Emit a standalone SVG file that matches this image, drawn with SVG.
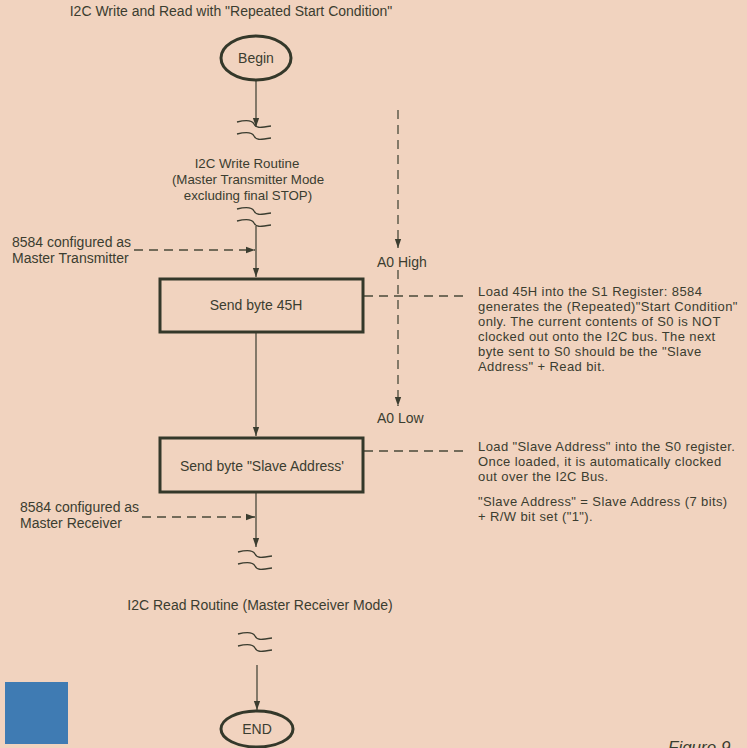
<svg xmlns="http://www.w3.org/2000/svg" width="747" height="748" viewBox="0 0 747 748">
<defs>
<marker id="ah" viewBox="0 0 10 10" refX="10" refY="5" markerWidth="9" markerHeight="9" markerUnits="userSpaceOnUse" orient="auto">
<path d="M0,1.5 L10,5 L0,8.5 Z" fill="#3b3d30"/>
</marker>
<path id="brk" d="M0,0 C8,-2 15,-2 17,2 C19,6 22,6 34,4" fill="none"/>
</defs>
<style>
text{font-family:"Liberation Sans",Arial,sans-serif;font-size:14px;fill:#3b3d30}
.c{text-anchor:middle}
.s{font-size:13.3px}
.n{font-size:13px;letter-spacing:0.4px}
.ln{stroke:#3b3d30;stroke-width:1.2;fill:none}
.ds{stroke:#4a4a3a;stroke-width:1.3;fill:none;stroke-dasharray:9 6}
.nd{stroke:#34382a;stroke-width:3;fill:none}
.bk{stroke:#3b3d30;stroke-width:1.3;fill:none}
</style>
<rect width="747" height="748" fill="#f1d3bf"/>
<rect x="5" y="682" width="63" height="62" fill="#3f7bb3"/>
<text x="231" y="16" class="c">I2C Write and Read with "Repeated Start Condition"</text>
<text x="668" y="753" style="font-size:17px;font-style:italic">Figure 9</text>

<g id="connectors">
<line class="ln" x1="256" y1="80" x2="256" y2="127" marker-end="url(#ah)"/>
<line class="ln" x1="256" y1="226" x2="256" y2="277" marker-end="url(#ah)"/>
<line class="ln" x1="256" y1="333" x2="256" y2="436" marker-end="url(#ah)"/>
<line class="ln" x1="256" y1="493" x2="256" y2="547" marker-end="url(#ah)"/>
<line class="ln" x1="257" y1="665" x2="257" y2="710" marker-end="url(#ah)"/>
<line class="ds" x1="134" y1="250" x2="255" y2="250" marker-end="url(#ah)"/>
<line class="ds" x1="142" y1="517" x2="255" y2="517" marker-end="url(#ah)"/>
<line class="ds" x1="364" y1="296" x2="468" y2="296"/>
<line class="ds" x1="364" y1="451" x2="468" y2="451"/>
<line class="ds" x1="398" y1="110" x2="398" y2="248" marker-end="url(#ah)"/>
<line class="ds" x1="398" y1="270" x2="398" y2="406" marker-end="url(#ah)"/>
<use href="#brk" class="bk" x="237" y="122"/>
<use href="#brk" class="bk" x="237" y="134"/>
<use href="#brk" class="bk" x="237" y="209"/>
<use href="#brk" class="bk" x="237" y="221"/>
<use href="#brk" class="bk" x="238" y="552"/>
<use href="#brk" class="bk" x="238" y="564"/>
<use href="#brk" class="bk" x="238" y="634"/>
<use href="#brk" class="bk" x="238" y="646"/>
</g>

<g id="begin">
<ellipse class="nd" cx="256" cy="58" rx="35" ry="22"/>
<text x="256" y="63" class="c">Begin</text>
</g>

<g id="write-routine">
<text x="247" y="168" class="c s">I2C Write Routine</text>
<text x="248" y="184" class="c s">(Master Transmitter Mode</text>
<text x="248" y="200" class="c s">excluding final STOP)</text>
</g>

<g id="label-transmitter">
<text x="12" y="247">8584 configured as</text>
<text x="12" y="263">Master Transmitter</text>
</g>

<g id="a0-high"><text x="377" y="267">A0 High</text></g>
<g id="a0-low"><text x="377" y="423">A0 Low</text></g>

<g id="send45">
<rect class="nd" x="160" y="279" width="203" height="53"/>
<text x="256" y="310" class="c">Send byte 45H</text>
</g>

<g id="note45">
<text x="478" y="296" class="n">Load 45H into the S1 Register:  8584</text>
<text x="478" y="311" class="n">generates the (Repeated)"Start Condition"</text>
<text x="478" y="326" class="n">only.  The current contents of S0 is NOT</text>
<text x="478" y="341" class="n">clocked out onto the I2C bus.  The next</text>
<text x="478" y="356" class="n">byte sent to S0 should be the "Slave</text>
<text x="478" y="371" class="n">Address" + Read bit.</text>
</g>

<g id="sendaddr">
<rect class="nd" x="160" y="438" width="203" height="54"/>
<text x="262" y="471" class="c">Send byte "Slave Address'</text>
</g>

<g id="noteaddr">
<text x="478" y="451" class="n">Load "Slave Address" into the S0 register.</text>
<text x="478" y="466" class="n">Once loaded, it is automatically clocked</text>
<text x="478" y="481" class="n">out over the I2C Bus.</text>
<text x="478" y="506" class="n">"Slave Address" = Slave Address (7 bits)</text>
<text x="478" y="521" class="n">+ R/W bit set ("1").</text>
</g>

<g id="label-receiver">
<text x="20" y="512">8584 configured as</text>
<text x="20" y="528">Master Receiver</text>
</g>

<g id="read-routine">
<text x="260" y="610" class="c">I2C Read Routine (Master Receiver Mode)</text>
</g>

<g id="end">
<ellipse class="nd" cx="257" cy="729" rx="36" ry="18"/>
<text x="257" y="734" class="c">END</text>
</g>
</svg>
